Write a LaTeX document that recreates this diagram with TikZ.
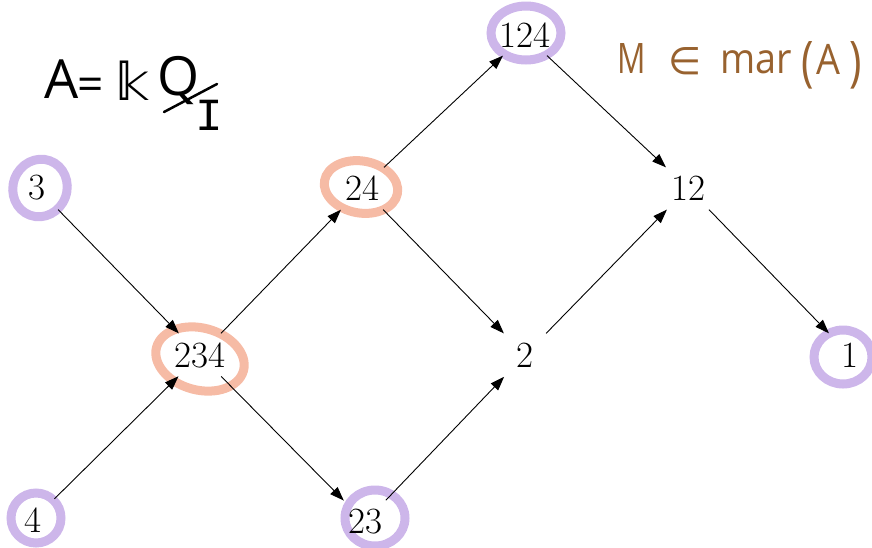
\documentclass[tikz,border=0pt]{standalone}
\usepackage{fontspec}
\setsansfont{Open Sans}
\newfontfamily\djv{DejaVu Sans}
\newfontfamily\lmono{Liberation Mono}
\usetikzlibrary{arrows.meta}
\definecolor{lav}{HTML}{CDB6EA}
\definecolor{salm}{HTML}{F6BBA5}
\definecolor{hbrown}{HTML}{98622F}
\tikzset{
  vert/.style={circle, minimum size=60pt, inner sep=0pt, font=\fontsize{37}{39}\selectfont},
  arr/.style={-{Triangle[length=14pt,width=10pt]}, line width=0.9pt, black},
  ringP/.style={draw=lav, line width=9pt},
  ringS/.style={draw=salm, line width=9pt},
  hand/.style={font=\fontsize{54}{56}\sffamily\selectfont, inner sep=0pt},
  handb/.style={font=\fontsize{42}{44}\sffamily\selectfont, inner sep=0pt, text=hbrown}
}
\begin{document}
\begin{tikzpicture}[x=1pt,y=-1pt]
\useasboundingbox (0,0) rectangle (872,547);
% rings
\draw[ringP, rotate around={-20:(40,188)}] (40,188) ellipse [x radius=27, y radius=29];
\draw[ringP] (36,518) ellipse [x radius=25, y radius=25];
\draw[ringS, rotate around={-15:(200,359)}] (200,359) ellipse [x radius=45, y radius=31];
\draw[ringS, rotate around={-10:(361,187)}] (361,187) ellipse [x radius=37, y radius=26];
\draw[ringP] (375,518) ellipse [x radius=30, y radius=28];
\draw[ringP] (526,33) ellipse [x radius=35, y radius=27];
\draw[ringP] (843,357) ellipse [x radius=29, y radius=27];
% nodes
\node[vert] (n3) at (37,188) {3};
\node[vert] (n4) at (33,520) {4};
\node[vert] (n234) at (200,355) {234};
\node[vert] (n24) at (362,188) {24};
\node[vert] (n23) at (365,522) {23};
\node[vert] (n124) at (525,35) {124};
\node[vert] (n2) at (525,355) {2};
\node[vert] (n12) at (688,188) {12};
\node[vert] (n1) at (850,355) {1};
% edges
\draw[arr] (n3) -- (n234);
\draw[arr] (n4) -- (n234);
\draw[arr] (n234) -- (n24);
\draw[arr] (n234) -- (n23);
\draw[arr] (n24) -- (n124);
\draw[arr] (n24) -- (n2);
\draw[arr] (n23) -- (n2);
\draw[arr] (n2) -- (n12);
\draw[arr] (n124) -- (n12);
\draw[arr] (n12) -- (n1);
% handwritten labels
\node[hand, anchor=base west] (tA) at (44,98) {A};
\node[inner sep=0pt, anchor=base west] (teq) at (77,100) {\fontsize{46}{48}\sffamily\selectfont =};
\node[inner sep=0pt, anchor=base west] (tk) at (115,100) {\fontsize{52}{54}\djv\selectfont 𝕜};
\node[hand, anchor=base west] (tQ) at (157,95) {Q};
\coordinate (s1) at (164,112);
\coordinate (s2) at (217,84);
\draw[line width=2.5pt, line cap=round] (s1) -- (s2);
\node[inner sep=0pt, anchor=base] (tI) at (209,130) {\fontsize{46}{48}\lmono\selectfont I};
\node[handb, anchor=base west] (tM) at (617,73) {\scalebox{0.75}[1]{M}};
\node[inner sep=0pt, text=hbrown, anchor=base west] (tin) at (668,74) {\fontsize{38}{40}\djv\selectfont ∈};
\node[handb, anchor=base west] (tmar) at (720,73) {\scalebox{0.9}[1]{mar}};
\node[handb, anchor=base west] (tlp) at (801,80) {\scalebox{1}[1.3]{(}};
\node[handb, anchor=base west] (tA2) at (816,74) {\scalebox{0.9}[1]{A}};
\node[handb, anchor=base west] (trp) at (849,80) {\scalebox{1}[1.3]{)}};
\end{tikzpicture}
\end{document}
